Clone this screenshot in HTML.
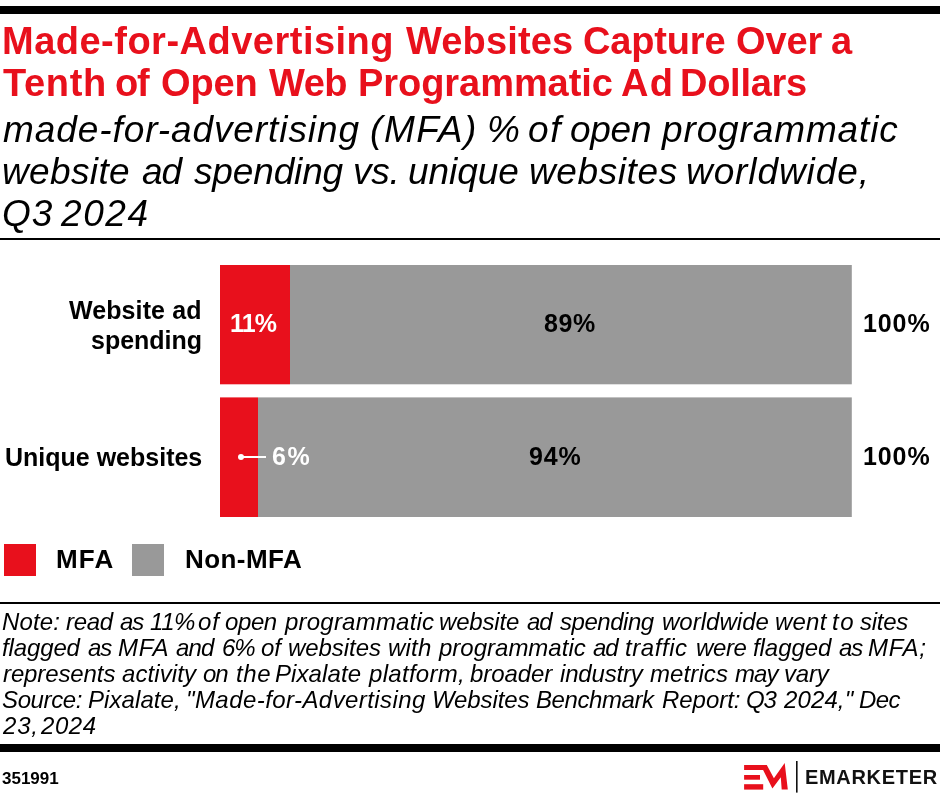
<!DOCTYPE html>
<html>
<head>
<meta charset="utf-8">
<style>
html,body{margin:0;padding:0;background:#fff;}
body{width:940px;height:798px;position:relative;overflow:hidden;font-family:"Liberation Sans",sans-serif;color:#000;}
.a{position:absolute;white-space:nowrap;will-change:transform;}
.bar{position:absolute;left:0;width:940px;background:#000;}
.t{font-weight:bold;color:#e8101c;font-size:38px;line-height:38px;left:4px;}
.s{font-style:italic;font-size:37px;line-height:37px;left:3px;}
.lab{font-weight:bold;font-size:25px;line-height:25px;}
.n{font-style:italic;font-size:24px;line-height:24px;left:2px;}
.red{background:#e8101c;}
.gray{background:#999;}
</style>
</head>
<body>
<div class="bar" style="top:6px;height:8px"></div>

<!--TS-->
<div class="a" style="font-weight:bold;color:#e8101c;font-size:38px;line-height:38px;top:21.8px;left:2.3px;letter-spacing:0.495px">Made-for-Advertising</div>
<div class="a" style="font-weight:bold;color:#e8101c;font-size:38px;line-height:38px;top:21.8px;left:405.5px;letter-spacing:0.143px">Websites</div>
<div class="a" style="font-weight:bold;color:#e8101c;font-size:38px;line-height:38px;top:21.8px;left:583.2px;letter-spacing:-0.167px">Capture</div>
<div class="a" style="font-weight:bold;color:#e8101c;font-size:38px;line-height:38px;top:21.8px;left:735.9px;letter-spacing:-0.133px">Over</div>
<div class="a" style="font-weight:bold;color:#e8101c;font-size:38px;line-height:38px;top:21.8px;left:830.9px;letter-spacing:0.0px">a</div>
<div class="a" style="font-weight:bold;color:#e8101c;font-size:38px;line-height:38px;top:64.3px;left:3.0px;letter-spacing:0.65px">Tenth</div>
<div class="a" style="font-weight:bold;color:#e8101c;font-size:38px;line-height:38px;top:64.3px;left:115.0px;letter-spacing:-1.2px">of</div>
<div class="a" style="font-weight:bold;color:#e8101c;font-size:38px;line-height:38px;top:64.3px;left:161.3px;letter-spacing:-0.133px">Open</div>
<div class="a" style="font-weight:bold;color:#e8101c;font-size:38px;line-height:38px;top:64.3px;left:268.9px;letter-spacing:-0.5px">Web</div>
<div class="a" style="font-weight:bold;color:#e8101c;font-size:38px;line-height:38px;top:64.3px;left:357.8px;letter-spacing:-0.055px">Programmatic</div>
<div class="a" style="font-weight:bold;color:#e8101c;font-size:38px;line-height:38px;top:64.3px;left:620.9px;letter-spacing:1.2px">Ad</div>
<div class="a" style="font-weight:bold;color:#e8101c;font-size:38px;line-height:38px;top:64.3px;left:680.4px;letter-spacing:-0.267px">Dollars</div>
<div class="a" style="font-style:italic;font-size:37px;line-height:37px;top:110.7px;left:3.2px;letter-spacing:0.916px">made-for-advertising</div>
<div class="a" style="font-style:italic;font-size:37px;line-height:37px;top:110.7px;left:370.1px;letter-spacing:1.6px">(MFA)</div>
<div class="a" style="font-style:italic;font-size:37px;line-height:37px;top:110.7px;left:486.7px;letter-spacing:0.0px">%</div>
<div class="a" style="font-style:italic;font-size:37px;line-height:37px;top:110.7px;left:527.5px;letter-spacing:1.6px">of</div>
<div class="a" style="font-style:italic;font-size:37px;line-height:37px;top:110.7px;left:569.9px;letter-spacing:-0.267px">open</div>
<div class="a" style="font-style:italic;font-size:37px;line-height:37px;top:110.7px;left:662.0px;letter-spacing:0.873px">programmatic</div>
<div class="a" style="font-style:italic;font-size:37px;line-height:37px;top:152.6px;left:2.0px;letter-spacing:0.367px">website</div>
<div class="a" style="font-style:italic;font-size:37px;line-height:37px;top:152.6px;left:141.5px;letter-spacing:-1.0px">ad</div>
<div class="a" style="font-style:italic;font-size:37px;line-height:37px;top:152.6px;left:193.9px;letter-spacing:-0.143px">spending</div>
<div class="a" style="font-style:italic;font-size:37px;line-height:37px;top:152.6px;left:353.4px;letter-spacing:-0.3px">vs.</div>
<div class="a" style="font-style:italic;font-size:37px;line-height:37px;top:152.6px;left:407.8px;letter-spacing:-0.04px">unique</div>
<div class="a" style="font-style:italic;font-size:37px;line-height:37px;top:152.6px;left:528.9px;letter-spacing:0.6px">websites</div>
<div class="a" style="font-style:italic;font-size:37px;line-height:37px;top:152.6px;left:685.9px;letter-spacing:0.911px">worldwide,</div>
<div class="a" style="font-style:italic;font-size:37px;line-height:37px;top:194.5px;left:2.3px;letter-spacing:1.0px">Q3</div>
<div class="a" style="font-style:italic;font-size:37px;line-height:37px;top:194.5px;left:61.3px;letter-spacing:1.6px">2024</div>
<!--/TS-->

<div class="bar" style="top:238px;height:2px"></div>

<!-- chart -->
<div class="a lab" style="right:738px;top:297.5px;text-align:right;letter-spacing:0.1px">Website ad</div>
<div class="a lab" style="right:738px;top:327.6px;text-align:right">spending</div>
<div class="a lab" style="right:738px;top:445.1px;text-align:right">Unique websites</div>

<svg style="position:absolute;left:0;top:0" width="940" height="798" viewBox="0 0 940 798">
<rect fill="#e8101c" x="220" y="265" width="70" height="119.3"/>
<rect fill="#999" x="290" y="265" width="561.8" height="119.3"/>
<rect fill="#e8101c" x="220" y="397.4" width="38" height="119.6"/>
<rect fill="#999" x="258" y="397.4" width="593.8" height="119.6"/>
</svg>

<div class="a lab" style="left:230.2px;top:311px;color:#fff;letter-spacing:-0.8px">11%</div>
<div class="a lab" style="left:544px;top:311px;letter-spacing:0.65px">89%</div>
<div class="a lab" style="left:862.5px;top:311px;letter-spacing:0.9px">100%</div>

<div style="position:absolute;left:238px;top:454px;width:6px;height:6px;border-radius:50%;background:#fff"></div>
<div style="position:absolute;left:241px;top:456px;width:25px;height:2px;background:#fff"></div>
<div class="a lab" style="left:272px;top:443.5px;color:#fff;letter-spacing:1.5px">6%</div>
<div class="a lab" style="left:528.5px;top:444px;letter-spacing:0.8px">94%</div>
<div class="a lab" style="left:862.5px;top:444px;letter-spacing:0.9px">100%</div>

<!-- legend -->
<div class="a red" style="left:4px;top:544px;width:32px;height:32px"></div>
<div class="a lab" style="left:55.5px;top:546px;font-size:26px;line-height:26px;letter-spacing:1.15px">MFA</div>
<div class="a gray" style="left:132px;top:544px;width:32px;height:32px"></div>
<div class="a lab" style="left:184.5px;top:546px;font-size:26px;line-height:26px;letter-spacing:0.43px">Non-MFA</div>

<div class="bar" style="top:602px;height:2px"></div>

<!--NT-->
<div class="a" style="font-style:italic;font-size:24px;line-height:24px;top:610.0px;left:2.0px;letter-spacing:0.15px">Note:</div>
<div class="a" style="font-style:italic;font-size:24px;line-height:24px;top:610.0px;left:66.2px;letter-spacing:-0.333px">read</div>
<div class="a" style="font-style:italic;font-size:24px;line-height:24px;top:610.0px;left:120.4px;letter-spacing:-1.2px">as</div>
<div class="a" style="font-style:italic;font-size:24px;line-height:24px;top:610.0px;left:149.6px;letter-spacing:-0.4px">11%</div>
<div class="a" style="font-style:italic;font-size:24px;line-height:24px;top:610.0px;left:198.2px;letter-spacing:0.8px">of</div>
<div class="a" style="font-style:italic;font-size:24px;line-height:24px;top:610.0px;left:225.2px;letter-spacing:-0.4px">open</div>
<div class="a" style="font-style:italic;font-size:24px;line-height:24px;top:610.0px;left:284.7px;letter-spacing:0.218px">programmatic</div>
<div class="a" style="font-style:italic;font-size:24px;line-height:24px;top:610.0px;left:439.1px;letter-spacing:-0.167px">website</div>
<div class="a" style="font-style:italic;font-size:24px;line-height:24px;top:610.0px;left:526.6px;letter-spacing:-1.2px">ad</div>
<div class="a" style="font-style:italic;font-size:24px;line-height:24px;top:610.0px;left:559.9px;letter-spacing:-0.457px">spending</div>
<div class="a" style="font-style:italic;font-size:24px;line-height:24px;top:610.0px;left:661.5px;letter-spacing:0.025px">worldwide</div>
<div class="a" style="font-style:italic;font-size:24px;line-height:24px;top:610.0px;left:775.3px;letter-spacing:0.2px">went</div>
<div class="a" style="font-style:italic;font-size:24px;line-height:24px;top:610.0px;left:832.0px;letter-spacing:1.6px">to</div>
<div class="a" style="font-style:italic;font-size:24px;line-height:24px;top:610.0px;left:860.2px;letter-spacing:-0.25px">sites</div>
<div class="a" style="font-style:italic;font-size:24px;line-height:24px;top:636.2px;left:2.0px;letter-spacing:-0.133px">flagged</div>
<div class="a" style="font-style:italic;font-size:24px;line-height:24px;top:636.2px;left:87.8px;letter-spacing:-1.2px">as</div>
<div class="a" style="font-style:italic;font-size:24px;line-height:24px;top:636.2px;left:118.1px;letter-spacing:0.8px">MFA</div>
<div class="a" style="font-style:italic;font-size:24px;line-height:24px;top:636.2px;left:176.2px;letter-spacing:-0.8px">and</div>
<div class="a" style="font-style:italic;font-size:24px;line-height:24px;top:636.2px;left:221.5px;letter-spacing:-1.2px">6%</div>
<div class="a" style="font-style:italic;font-size:24px;line-height:24px;top:636.2px;left:261.2px;letter-spacing:0.0px">of</div>
<div class="a" style="font-style:italic;font-size:24px;line-height:24px;top:636.2px;left:287.7px;letter-spacing:-0.057px">websites</div>
<div class="a" style="font-style:italic;font-size:24px;line-height:24px;top:636.2px;left:387.8px;letter-spacing:0.2px">with</div>
<div class="a" style="font-style:italic;font-size:24px;line-height:24px;top:636.2px;left:438.6px;letter-spacing:0.0px">programmatic</div>
<div class="a" style="font-style:italic;font-size:24px;line-height:24px;top:636.2px;left:592.5px;letter-spacing:-1.2px">ad</div>
<div class="a" style="font-style:italic;font-size:24px;line-height:24px;top:636.2px;left:625.1px;letter-spacing:0.567px">traffic</div>
<div class="a" style="font-style:italic;font-size:24px;line-height:24px;top:636.2px;left:696.2px;letter-spacing:-0.4px">were</div>
<div class="a" style="font-style:italic;font-size:24px;line-height:24px;top:636.2px;left:753.3px;letter-spacing:-0.067px">flagged</div>
<div class="a" style="font-style:italic;font-size:24px;line-height:24px;top:636.2px;left:839.0px;letter-spacing:-1.2px">as</div>
<div class="a" style="font-style:italic;font-size:24px;line-height:24px;top:636.2px;left:868.3px;letter-spacing:0.8px">MFA;</div>
<div class="a" style="font-style:italic;font-size:24px;line-height:24px;top:662.4px;left:2.5px;letter-spacing:-0.111px">represents</div>
<div class="a" style="font-style:italic;font-size:24px;line-height:24px;top:662.4px;left:122.4px;letter-spacing:0.086px">activity</div>
<div class="a" style="font-style:italic;font-size:24px;line-height:24px;top:662.4px;left:203.3px;letter-spacing:-1.0px">on</div>
<div class="a" style="font-style:italic;font-size:24px;line-height:24px;top:662.4px;left:235.6px;letter-spacing:0.6px">the</div>
<div class="a" style="font-style:italic;font-size:24px;line-height:24px;top:662.4px;left:275.3px;letter-spacing:0.086px">Pixalate</div>
<div class="a" style="font-style:italic;font-size:24px;line-height:24px;top:662.4px;left:369.1px;letter-spacing:0.3px">platform,</div>
<div class="a" style="font-style:italic;font-size:24px;line-height:24px;top:662.4px;left:469.8px;letter-spacing:-0.1px">broader</div>
<div class="a" style="font-style:italic;font-size:24px;line-height:24px;top:662.4px;left:559.9px;letter-spacing:-0.171px">industry</div>
<div class="a" style="font-style:italic;font-size:24px;line-height:24px;top:662.4px;left:650.1px;letter-spacing:0.1px">metrics</div>
<div class="a" style="font-style:italic;font-size:24px;line-height:24px;top:662.4px;left:734.5px;letter-spacing:-0.9px">may</div>
<div class="a" style="font-style:italic;font-size:24px;line-height:24px;top:662.4px;left:783.9px;letter-spacing:-0.2px">vary</div>
<div class="a" style="font-style:italic;font-size:24px;line-height:24px;top:687.9px;left:2.0px;letter-spacing:-0.367px">Source:</div>
<div class="a" style="font-style:italic;font-size:24px;line-height:24px;top:687.9px;left:88.4px;letter-spacing:0.075px">Pixalate,</div>
<div class="a" style="font-style:italic;font-size:24px;line-height:24px;top:687.9px;left:185.8px;letter-spacing:0.43px">"Made-for-Advertising</div>
<div class="a" style="font-style:italic;font-size:24px;line-height:24px;top:687.9px;left:432.3px;letter-spacing:-0.114px">Websites</div>
<div class="a" style="font-style:italic;font-size:24px;line-height:24px;top:687.9px;left:535.8px;letter-spacing:-0.425px">Benchmark</div>
<div class="a" style="font-style:italic;font-size:24px;line-height:24px;top:687.9px;left:662.0px;letter-spacing:-0.033px">Report:</div>
<div class="a" style="font-style:italic;font-size:24px;line-height:24px;top:687.9px;left:746.4px;letter-spacing:-1.2px">Q3</div>
<div class="a" style="font-style:italic;font-size:24px;line-height:24px;top:687.9px;left:784.1px;letter-spacing:0.12px">2024,"</div>
<div class="a" style="font-style:italic;font-size:24px;line-height:24px;top:687.9px;left:859.2px;letter-spacing:-0.6px">Dec</div>
<div class="a" style="font-style:italic;font-size:24px;line-height:24px;top:714.3px;left:2.5px;letter-spacing:0.8px">23,</div>
<div class="a" style="font-style:italic;font-size:24px;line-height:24px;top:714.3px;left:40.5px;letter-spacing:0.533px">2024</div>
<!--/NT-->
<div class="bar" style="top:744px;height:8px"></div>

<div class="a" style="left:2px;top:769.6px;font-weight:bold;font-size:17px;line-height:17px">351991</div>

<!-- logo -->
<svg style="position:absolute;left:0;top:0" width="940" height="798" viewBox="0 0 940 798">
<polygon fill="#e8101c" points="744.1,764.9 766.8,764.9 773.9,778.2 784.7,763 787.8,789.6 781.7,789.6 780.8,777.2 772.4,788.5 763.1,769.9 744.1,769.9"/>
<rect fill="#e8101c" x="744.1" y="775" width="15.9" height="4.7"/>
<rect fill="#e8101c" x="744.1" y="784.2" width="19.1" height="5.4"/>
<rect fill="#111" x="796" y="761" width="1.6" height="31.6"/>
</svg>
<div class="a" style="left:805px;top:767.1px;font-weight:bold;font-size:20px;line-height:20px;letter-spacing:0.68px;color:#111">EMARKETER</div>
</body>
</html>
